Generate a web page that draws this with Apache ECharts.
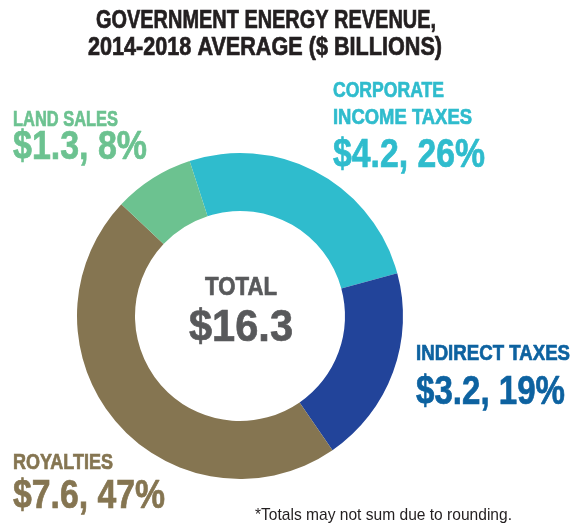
<!DOCTYPE html>
<html>
<head>
<meta charset="utf-8">
<script src="https://cdn.jsdelivr.net/npm/echarts@6/dist/echarts.min.js"></script>
<style>
  html, body { margin: 0; padding: 0; background: #fff; }
  #chart { width: 572px; height: 526px; }
</style>
</head>
<body>
<div id="chart"></div>
<script>
// Data
const categories = ['CORPORATE\nINCOME TAXES', 'INDIRECT TAXES', 'ROYALTIES', 'LAND SALES'];
const values = [4.2, 3.2, 7.6, 1.3];
const percents = [26, 19, 47, 8];
const sliceColors = ['#2FBCCD', '#22449A', '#857551', '#6CC290'];
const labelColors = ['#2FBCCD', '#0D62A0', '#857551', '#6CC290'];
const total = 16.3;

const FONT = '"Liberation Sans", Arial, sans-serif';

const chart = echarts.init(document.getElementById('chart'));

// label layout per category: left x, name line centres + widths, value centre + width
const labelPos = [
  { x: 333, ny: [91, 118], nw: [111, 139], vy: 156, vw: 152 },
  { x: 416, ny: [354], nw: [154], vy: 393, vw: 149 },
  { x: 13, ny: [463], nw: [100], vy: 497, vw: 152 },
  { x: 13, ny: [120], nw: [105], vy: 148, vw: 134 }
];

const measureCtx = document.createElement('canvas').getContext('2d');
const graphics = [];
// text squeezed horizontally to a target width (condensed look)
function txt(text, x, y, size, color, align, width, weight) {
  const font = (weight || 'bold') + ' ' + size + 'px ' + FONT;
  measureCtx.font = font;
  const w = measureCtx.measureText(text).width;
  const heavy = !weight;
  graphics.push({
    type: 'text',
    x: x, y: y,
    z: 100,
    scaleX: width ? width / w : 1,
    style: {
      text: text,
      font: font,
      fill: color,
      stroke: heavy ? color : null,
      lineWidth: heavy ? 0.7 : 0,
      align: align || 'left',
      verticalAlign: 'middle'
    }
  });
}

txt('GOVERNMENT ENERGY REVENUE,', 266, 21.5, 25, '#231F20', 'center', 340);
txt('2014-2018 AVERAGE ($ BILLIONS)', 265, 48.5, 25, '#231F20', 'center', 354);

categories.forEach(function (name, i) {
  const p = labelPos[i];
  name.split('\n').forEach(function (line, j) {
    txt(line, p.x, p.ny[j], 22.5, labelColors[i], 'left', p.nw[j]);
  });
  txt('$' + values[i].toFixed(1) + ', ' + percents[i] + '%', p.x, p.vy, 40, labelColors[i], 'left', p.vw);
});

txt('TOTAL', 241, 287.5, 26, '#58595B', 'center', 72);
txt('$' + total.toFixed(1), 241, 329, 45, '#58595B', 'center', 104);
txt('*Totals may not sum due to rounding.', 255, 515, 17, '#231F20', 'left', 257, 'normal');

chart.setOption({
  animation: false,
  graphic: graphics,
  series: [{
    type: 'pie',
    center: [240, 316],
    radius: [105, 163],
    startAngle: 108,
    clockwise: true,
    silent: true,
    label: { show: false },
    labelLine: { show: false },
    data: categories.map(function (c, i) {
      return { name: c, value: values[i], itemStyle: { color: sliceColors[i] } };
    })
  }]
});
</script>
</body>
</html>
